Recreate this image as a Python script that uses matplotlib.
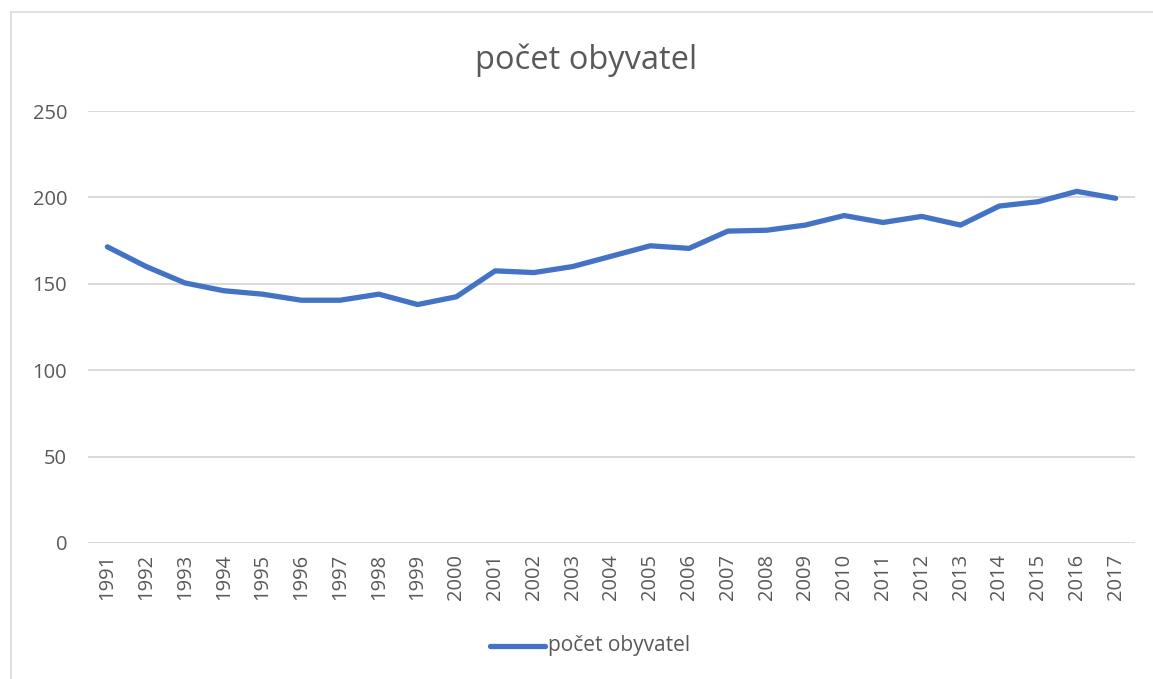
import matplotlib.pyplot as plt
from matplotlib.lines import Line2D

roky = [str(r) for r in range(1991, 2018)]
obyvatel = [171.4, 160, 150.5, 146, 144, 140.5, 140.5, 144, 138, 142.5,
            157.5, 156.5, 160, 166, 172, 170.5, 180.5, 181, 184, 189.5,
            185.5, 189, 184, 195, 197.5, 203.5, 199.5]
yticks = [0, 50, 100, 150, 200, 250]

seda = '#595959'
modra = '#4472C4'
plt.rcParams['font.family'] = ['Open Sans', 'DejaVu Sans']

fig = plt.figure(figsize=(11.53, 6.79), dpi=100)
ax = fig.add_axes([0.0763, 0.2003, 0.9081, 0.6362])

x = list(range(len(roky)))
ax.plot(x, obyvatel, color=modra, linewidth=3.8, solid_capstyle='round',
        solid_joinstyle='round', zorder=3)

ax.set_xlim(-0.5, len(roky) - 0.5)
ax.set_ylim(0, 250)
ax.set_yticks(yticks)
ax.set_xticks(x)
ax.set_xticklabels(roky, rotation=90)
ax.tick_params(axis='both', length=0, labelsize=14.5, colors=seda)
ax.tick_params(axis='y', pad=15)
ax.tick_params(axis='x', pad=8)
ax.grid(axis='y', color='#D9D9D9', linewidth=1.4)
for s in ax.spines.values():
    s.set_visible(False)
ax.set_axisbelow(True)

fig.text(0.5087, 0.912, 'počet obyvatel', ha='center', va='center',
         fontsize=23.5, color=seda)

# legenda
leg_line = Line2D([490 / 1153, 545 / 1153], [1 - 646 / 679] * 2,
                  transform=fig.transFigure, color=modra, linewidth=3.8,
                  solid_capstyle='round')
fig.add_artist(leg_line)
fig.text(548 / 1153, 1 - 645 / 679, 'počet obyvatel', ha='left', va='center',
         fontsize=15, color=seda)

# ramecek grafu
fig.add_artist(Line2D([11 / 1153, 11 / 1153], [0, 1 - 12 / 679],
                      transform=fig.transFigure, color='#D9D9D9', linewidth=1.2))
fig.add_artist(Line2D([11 / 1153, 1], [1 - 12 / 679] * 2,
                      transform=fig.transFigure, color='#D9D9D9', linewidth=1.2))

fig.savefig('out.png', dpi=100)
